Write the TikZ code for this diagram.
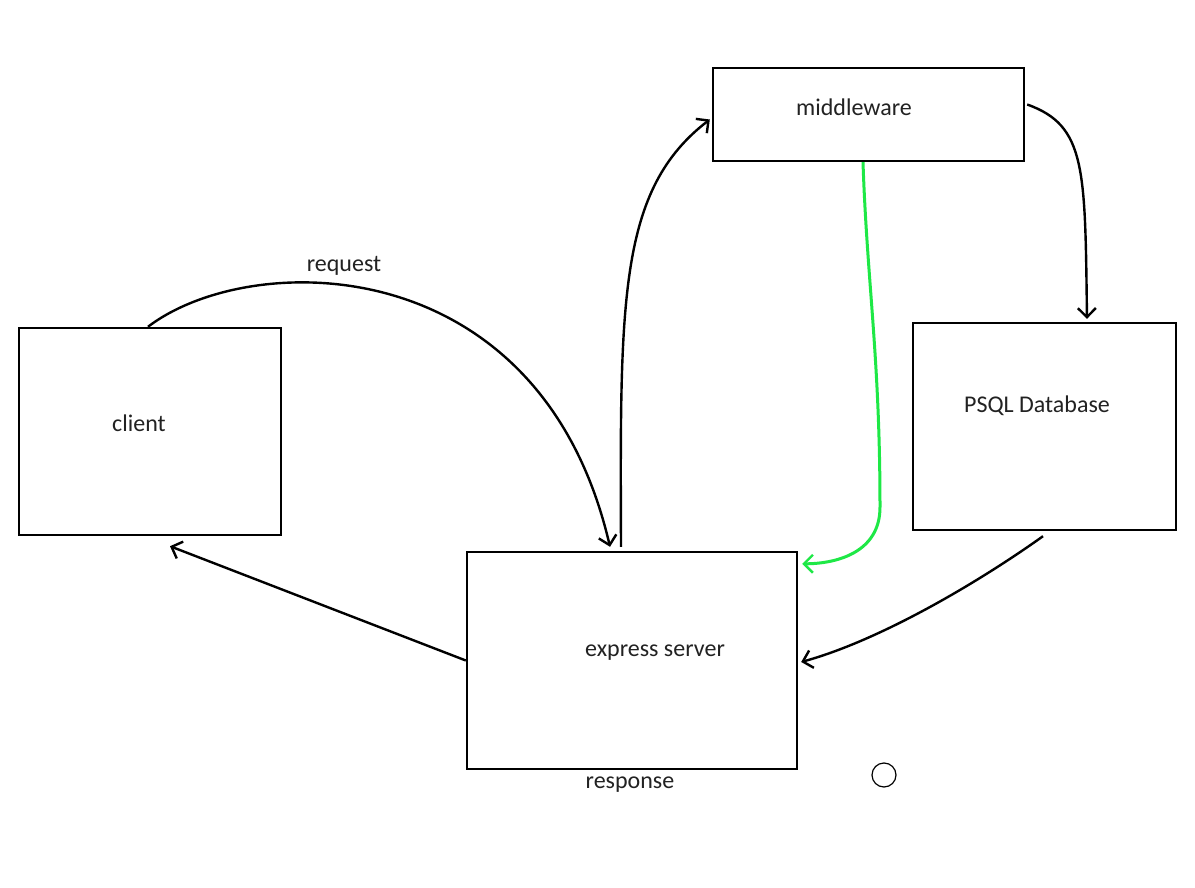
\documentclass[tikz,border=0pt]{standalone}
\usepackage{fontspec}
\setmainfont{Carlito}
\usepackage{xcolor}
\usetikzlibrary{arrows.meta,calc}
\definecolor{linkgreen}{RGB}{30,232,70}
\definecolor{inktext}{RGB}{34,34,34}
\tikzset{
  box/.style={draw, line width=1.2pt, inner sep=0pt},
  flow/.style={line width=1.2pt, -{Straight Barb[length=4.5pt,width=9pt,line width=1.2pt]}},
  lbl/.style={text=inktext, font=\fontsize{12pt}{14pt}\selectfont},
}

\begin{document}
\begin{tikzpicture}[x=0.5pt,y=-0.5pt]
    \path[use as bounding box, fill=white] (0,0) rectangle (1195,888);

    \node[box, minimum width=131pt, minimum height=103.5pt] (client) at (150,431.5) {};
    \node[box, minimum width=165pt, minimum height=108.5pt] (server) at (632,660.5) {};
    \node[box, minimum width=155.5pt, minimum height=46.5pt] (mw) at (868.5,114.5) {};
    \node[box, minimum width=131.5pt, minimum height=103.5pt] (db) at (1044.5,426.5) {};

    \node[lbl] (clienttext) at (139,423) {client};
    \node[lbl] (servertext) at (655,653) {express server};
    \node[lbl] (mwtext) at (854,107) {middleware};
    \node[lbl] (dbtext) at (1037,406) {PSQL Database};
    \node[lbl] (request) at (344,266) {request};
    \node[lbl] (response) at (630,785) {response};

    \node[draw, circle, line width=0.6pt, minimum size=12pt, inner sep=0pt] (dot) at (884,775) {};

    \draw[flow] ($(client.north)+(-2,0)$) .. controls +(102,-78) and +(-70,-300) .. ($(server.north)+(-22,-4)$);
    \draw[flow] ($(server.north)+(-11,-4)$) .. controls +(-1,-248) and +(-91,70) .. ($(mw.west)+(-2,5)$);
    \draw[flow] ($(mw.east)+(2,-10)$) .. controls +(59,21) and +(-2,-150) .. ($(db.north)+(42.5,-3)$);
    \draw[flow, linkgreen, line width=1.5pt] ($(mw.south)+(-5.5,0)$) .. controls +(4,120) and +(0,-150) .. ++(17,345)
        .. controls +(0,45) and +(35,0) .. ($(server.north east)+(4,13)$);
    \draw[flow] ($(db.south)+(-1.5,5)$) .. controls +(-63,45) and +(80,-22) .. ($(server.east)+(3,1.5)$);
    \draw[flow] (server.west) -- ($(client.south)+(20,10)$);
\end{tikzpicture}
\end{document}
